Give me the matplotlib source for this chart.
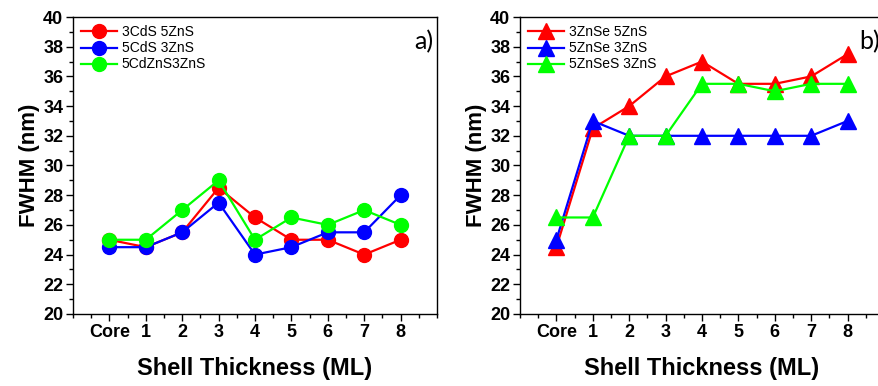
import matplotlib
matplotlib.use("Agg")
import matplotlib.pyplot as plt
from matplotlib.ticker import MultipleLocator

# x categories
shell = [0, 1, 2, 3, 4, 5, 6, 7, 8]
shell_labels = ["Core", "1", "2", "3", "4", "5", "6", "7", "8"]

# panel a)
names_a = ["3CdS 5ZnS", "5CdS 3ZnS", "5CdZnS3ZnS"]
cds_3_5 = [25, 24.5, 25.5, 28.5, 26.5, 25, 25, 24, 25]
cds_5_3 = [24.5, 24.5, 25.5, 27.5, 24, 24.5, 25.5, 25.5, 28]
cdzns_5_3 = [25, 25, 27, 29, 25, 26.5, 26, 27, 26]

# panel b)
names_b = ["3ZnSe 5ZnS", "5ZnSe 3ZnS", "5ZnSeS 3ZnS"]
znse_3_5 = [24.5, 32.5, 34, 36, 37, 35.5, 35.5, 36, 37.5]
znse_5_3 = [25, 33, 32, 32, 32, 32, 32, 32, 33]
znses_5_3 = [26.5, 26.5, 32, 32, 35.5, 35.5, 35, 35.5, 35.5]

colors = ["#ff0000", "#0000ff", "#00ff00"]

plt.rcParams["font.family"] = ["Liberation Sans", "DejaVu Sans"]

fig = plt.figure(figsize=(8.79, 3.86), dpi=100)
ax1 = fig.add_axes([73 / 879, 1 - 314 / 386, 364 / 879, 297 / 386])
ax2 = fig.add_axes([520 / 879, 1 - 314 / 386, 364 / 879, 297 / 386])


def style_axis(ax, tag):
    ax.set_xlim(-1, 9)
    ax.set_ylim(20, 40)
    ax.set_xticks(shell, shell_labels)
    ax.xaxis.set_minor_locator(MultipleLocator(0.5))
    ax.yaxis.set_major_locator(MultipleLocator(2))
    ax.yaxis.set_minor_locator(MultipleLocator(1))
    ax.tick_params(which="both", direction="out", top=False, right=False,
                   labelsize=13, width=1)
    ax.tick_params(which="major", length=5, pad=2)
    ax.tick_params(which="minor", length=3)
    for lab in ax.get_xticklabels() + ax.get_yticklabels():
        lab.set_fontweight("bold")
    for sp in ax.spines.values():
        sp.set_linewidth(1)
    ax.set_xlabel("Shell Thickness (ML)", fontsize=17, fontweight="bold", labelpad=12)
    ax.set_ylabel("FWHM (nm)", fontsize=16, fontweight="bold", labelpad=2)
    ax.text(0.99, 0.955, tag, transform=ax.transAxes, ha="right", va="top",
            fontsize=18, family="Lato")
    ax.legend(loc="upper left", frameon=False, handlelength=2.6,
              borderaxespad=0.2, labelspacing=0.15, handletextpad=0.3,
              prop={"family": "Liberation Sans", "size": 10})


for ys, name, c in zip([cds_3_5, cds_5_3, cdzns_5_3], names_a, colors):
    ax1.plot(shell, ys, color=c, lw=1.6, marker="o", ms=10, label=name)
for ys, name, c in zip([znse_3_5, znse_5_3, znses_5_3], names_b, colors):
    ax2.plot(shell, ys, color=c, lw=1.6, marker="^", ms=11, label=name)

style_axis(ax1, "a)")
style_axis(ax2, "b)")

fig.savefig("out.png", dpi=100)
